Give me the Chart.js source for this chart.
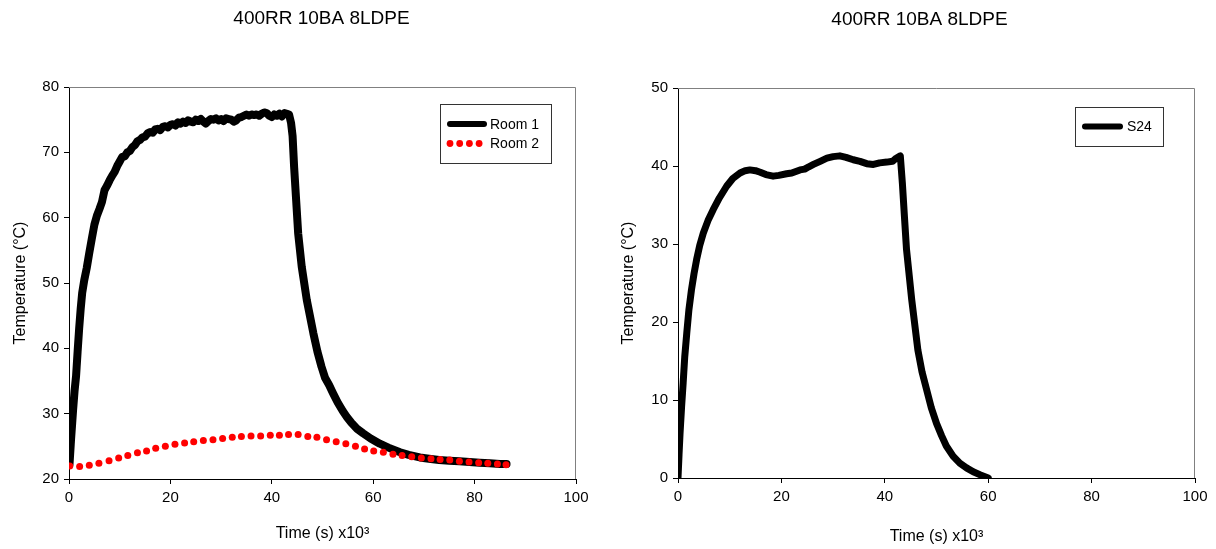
<!DOCTYPE html>
<html>
<head>
<meta charset="utf-8">
<script src="https://cdn.jsdelivr.net/npm/chart.js"></script>
<style>
  body { margin: 0; background: #fff; }
  #wrap { position: relative; width: 1216px; height: 549px; }
  canvas { position: absolute; top: 0; }
  #leftChart { left: 0; }
  #rightChart { left: 600px; }
</style>
</head>
<body>
<div id="wrap">
  <canvas id="leftChart" width="600" height="549"></canvas>
  <canvas id="rightChart" width="616" height="549"></canvas>
</div>
<script>
    const chartTitle = '400RR 10BA 8LDPE';
    const xTitle = 'Time (s) x10\u00b3';
    const yTitle = 'Temperature (\u00b0C)';

    // Room 1 (thick black line), time in thousands of seconds
    const room1Time = [0.1, 0.4, 0.8, 1.1, 1.4, 1.7, 2.0, 2.3, 2.6, 3.0, 3.5, 4.0, 4.5, 5.0, 5.5, 6.0, 6.5, 7.0, 7.5, 8.0,
        8.5, 9.0, 9.5, 10.0, 10.5, 11.0, 11.5, 12.0, 12.5, 13.0, 13.5, 14.0, 14.5, 15.0, 15.5, 16.0, 16.5, 17.0, 17.5, 18.0,
        18.5, 19.0, 19.5, 20.0, 20.5, 21.0, 21.5, 22.0, 22.5, 23.0, 23.5, 24.0, 24.5, 25.0, 25.5, 26.0, 26.5, 27.0, 27.5, 28.0,
        28.5, 29.0, 29.5, 30.0, 30.5, 31.0, 31.5, 32.0, 32.5, 33.0, 33.5, 34.0, 34.5, 35.0, 35.5, 36.0, 36.5, 37.0, 37.5, 38.0,
        38.5, 39.0, 39.5, 40.0, 40.5, 41.0, 41.5, 42.0, 42.5, 43.0, 43.4, 43.8, 44.1, 44.4, 44.8, 45.2, 45.9, 46.9, 48.2, 49.0,
        49.8, 50.5, 51.3, 52.1, 53.0, 54.0, 54.8, 55.7, 56.8, 58.0, 59.5, 61.3, 63.0, 65.3, 67.0, 69.2, 71.0, 73.0, 75.0, 77.0,
        79.0, 81.0, 83.0, 85.0, 86.3];
    const room1Temp = [22.2, 26.0, 30.5, 33.5, 35.8, 39.5, 43.0, 46.0, 48.5, 50.4, 52.3, 54.6, 56.8, 58.9, 60.3, 61.3, 62.4, 64.2, 64.9, 65.7,
        66.4, 67.0, 67.9, 68.6, 69.3, 69.4, 70.0, 70.2, 70.8, 71.1, 71.7, 71.9, 72.3, 72.4, 72.9, 73.1, 73.0, 73.5, 73.6, 73.4,
        73.9, 74.0, 73.8, 74.2, 74.3, 74.1, 74.6, 74.4, 74.7, 74.5, 74.9, 74.7, 74.6, 75.0, 74.8, 75.1, 74.7, 74.4, 74.8, 75.1,
        75.0, 75.2, 74.9, 75.1, 74.8, 75.2, 75.1, 75.0, 74.7, 74.9, 75.3, 75.4, 75.6, 75.8, 75.6, 75.8, 75.7, 75.8, 75.6, 75.9,
        76.1, 76.0, 75.6, 75.4, 75.8, 75.6, 75.9, 75.5, 76.0, 75.9, 75.8, 74.5, 72.5, 67.8, 62.7, 57.6, 52.5, 47.4, 42.3, 39.5,
        37.2, 35.5, 34.4, 33.1, 31.7, 30.4, 29.5, 28.6, 27.7, 27.0, 26.2, 25.4, 24.8, 24.1, 23.7, 23.3, 23.1, 22.9, 22.8, 22.7,
        22.6, 22.5, 22.4, 22.3, 22.3];

    // Room 2 (red dots)
    const room2Time = [0.15, 2.1, 4.0, 5.9, 7.9, 9.8, 11.6, 13.5, 15.3, 17.1, 19.0, 20.9, 22.8, 24.6, 26.5, 28.4, 30.3, 32.2, 34.0, 35.9,
        37.8, 39.7, 41.5, 43.3, 45.2, 47.1, 48.9, 50.8, 52.7, 54.6, 56.5, 58.3, 60.1, 62.0, 63.9, 65.7, 67.6, 69.5, 71.4, 73.2,
        75.1, 77.0, 78.9, 80.8, 82.6, 84.5, 86.2];
    const room2Temp = [22.0, 21.9, 22.1, 22.4, 22.8, 23.2, 23.6, 24.0, 24.3, 24.7, 25.0, 25.3, 25.5, 25.7, 25.9, 26.0, 26.2, 26.4, 26.5, 26.6,
        26.6, 26.7, 26.7, 26.8, 26.8, 26.5, 26.4, 26.0, 25.7, 25.4, 25.0, 24.6, 24.3, 24.1, 23.8, 23.6, 23.4, 23.2, 23.1, 23.0,
        22.9, 22.7, 22.6, 22.5, 22.4, 22.3, 22.2];

    // S24 (right chart)
    const s24Time = [0.0, 0.2, 0.4, 0.7, 1.0, 1.3, 1.7, 2.1, 2.6, 3.1, 3.6, 4.2, 4.9, 5.8, 6.8, 8.0, 9.4, 10.6, 12.0, 13.0,
        13.9, 15.0, 15.9, 17.0, 18.4, 19.5, 21.0, 22.0, 23.6, 24.5, 25.3, 26.2, 27.5, 28.8, 30.0, 31.3, 32.5, 33.9, 35.2, 36.5,
        37.8, 39.0, 40.4, 41.5, 42.2, 43.0, 43.4, 43.8, 44.2, 45.2, 46.4, 47.2, 48.1, 49.0, 50.0, 51.0, 51.9, 53.2, 54.5, 55.8,
        57.1, 58.5, 60.0];
    const s24Temp = [0.0, 3.0, 5.8, 9.2, 12.2, 15.5, 18.6, 21.5, 24.1, 26.2, 28.0, 29.8, 31.4, 33.0, 34.4, 35.9, 37.4, 38.4, 39.1, 39.4,
        39.5, 39.4, 39.2, 38.9, 38.7, 38.8, 39.0, 39.1, 39.5, 39.6, 39.9, 40.2, 40.6, 41.0, 41.2, 41.3, 41.1, 40.8, 40.6, 40.3,
        40.2, 40.4, 40.5, 40.6, 41.0, 41.3, 37.8, 33.5, 29.3, 22.9, 16.4, 13.6, 11.3, 9.0, 7.0, 5.4, 4.1, 2.8, 1.9, 1.3,
        0.8, 0.4, 0.0];

    const xTicks = [0, 20, 40, 60, 80, 100];
    const leftYTicks = [20, 30, 40, 50, 60, 70, 80];
    const rightYTicks = [0, 10, 20, 30, 40, 50];

    const FONT = "'Liberation Sans', Arial, sans-serif";

    function pairs(xs, ys) {
        return xs.map((x, i) => ({ x: x, y: ys[i] }));
    }

    // gray top/right frame of the plot area
    const plotFrame = {
        id: 'plotFrame',
        beforeDatasetsDraw(chart) {
            const { ctx, chartArea: a } = chart;
            ctx.save();
            ctx.strokeStyle = '#808080';
            ctx.lineWidth = 1;
            ctx.beginPath();
            ctx.moveTo(a.left, a.top + 0.5);
            ctx.lineTo(a.right - 0.5, a.top + 0.5);
            ctx.lineTo(a.right - 0.5, a.bottom);
            ctx.stroke();
            ctx.restore();
        }
    };

    // title drawn at a fixed offset from the plot centre
    const topTitle = {
        id: 'topTitle',
        afterDraw(chart, args, opts) {
            const { ctx, chartArea: a } = chart;
            ctx.save();
            ctx.font = '19px ' + FONT;
            ctx.fillStyle = '#000';
            ctx.textAlign = 'center';
            ctx.textBaseline = 'middle';
            ctx.fillText(opts.text, (a.left + a.right) / 2 + opts.dx, opts.y);
            ctx.restore();
        }
    };

    // boxed legend inside the plot area, top right
    const boxLegend = {
        id: 'boxLegend',
        afterDatasetsDraw(chart, args, opts) {
            const { ctx, chartArea: a } = chart;
            const x = a.right - opts.right - opts.width;
            const y = a.top + opts.top;
            ctx.save();
            ctx.fillStyle = '#fff';
            ctx.fillRect(x, y, opts.width, opts.height);
            ctx.strokeStyle = '#333';
            ctx.lineWidth = 1;
            ctx.strokeRect(x + 0.5, y + 0.5, opts.width, opts.height);
            ctx.font = '14px ' + FONT;
            ctx.textBaseline = 'middle';
            chart.data.datasets.forEach((ds, i) => {
                const ly = y + opts.firstRow + i * opts.rowGap;
                if (ds.showLine === false) {
                    ctx.fillStyle = ds.pointBackgroundColor;
                    for (let k = 0; k < 4; k++) {
                        ctx.beginPath();
                        ctx.arc(x + 10 + k * 9.7, ly, 3.4, 0, Math.PI * 2);
                        ctx.fill();
                    }
                } else {
                    ctx.strokeStyle = ds.borderColor;
                    ctx.lineWidth = 6;
                    ctx.lineCap = 'round';
                    ctx.beginPath();
                    ctx.moveTo(x + 10, ly);
                    ctx.lineTo(x + opts.lineEnd, ly);
                    ctx.stroke();
                }
                ctx.fillStyle = '#000';
                ctx.fillText(ds.label, x + opts.textX, ly + 1);
            });
            ctx.restore();
        }
    };

    function axisOptions(min, max, ticks, axisSize, titlePad, horizontal) {
        return {
            type: 'linear',
            min: min,
            max: max,
            afterBuildTicks: (scale) => { scale.ticks = ticks.map(v => ({ value: v })); },
            afterFit: (scale) => {
                if (horizontal) scale.height = axisSize; else scale.width = axisSize;
            },
            border: { display: true, color: '#000', width: 1 },
            grid: { display: true, drawOnChartArea: false, drawTicks: true, tickLength: 5, color: '#000' },
            ticks: {
                color: '#000',
                padding: horizontal ? 5 : 5,
                maxRotation: 0,
                font: { family: FONT, size: 15 }
            },
            title: {
                display: true,
                text: horizontal ? xTitle : yTitle,
                color: '#000',
                font: { family: FONT, size: 16 },
                padding: horizontal ? { bottom: titlePad } : { top: titlePad }
            }
        };
    }

    function baseOptions(pad, yMin, yMax, yTicks, yWidth, yTitlePad, xHeight, xTitlePad, legend, title) {
        return {
            responsive: false,
            animation: false,
            devicePixelRatio: 1,
            layout: { padding: pad },
            plugins: {
                legend: { display: false },
                tooltip: { enabled: false },
                boxLegend: legend,
                topTitle: title
            },
            elements: { point: { radius: 0 } },
            scales: {
                x: axisOptions(0, 100, xTicks, xHeight, xTitlePad, true),
                y: axisOptions(yMin, yMax, yTicks, yWidth, yTitlePad, false)
            }
        };
    }

    new Chart(document.getElementById('leftChart'), {
        type: 'line',
        data: {
            datasets: [{
                label: 'Room 1',
                data: pairs(room1Time, room1Temp),
                order: 2,
                borderColor: '#000',
                borderWidth: 8,
                borderCapStyle: 'round',
                borderJoinStyle: 'round',
                pointRadius: 0,
                tension: 0
            }, {
                label: 'Room 2',
                data: pairs(room2Time, room2Temp),
                order: 1,
                showLine: false,
                pointRadius: 3.5,
                pointBorderWidth: 0,
                pointBackgroundColor: '#ff0000',
                borderColor: '#ff0000'
            }]
        },
        options: baseOptions({ top: 87, left: 0, right: 24, bottom: 0 }, 20, 80, leftYTicks, 69, 11, 70, 6,
            { right: 25, top: 17, width: 111, height: 59, firstRow: 20, rowGap: 19.5, lineEnd: 44, textX: 50 },
            { text: chartTitle, dx: -1, y: 19 }),
        plugins: [plotFrame, boxLegend, topTitle]
    });

    new Chart(document.getElementById('rightChart'), {
        type: 'line',
        data: {
            datasets: [{
                label: 'S24',
                data: pairs(s24Time, s24Temp),
                borderColor: '#000',
                borderWidth: 7,
                borderCapStyle: 'round',
                borderJoinStyle: 'round',
                pointRadius: 0,
                tension: 0
            }]
        },
        options: baseOptions({ top: 88, left: 0, right: 21, bottom: 0 }, 0, 50, rightYTicks, 78, 19, 71, 3,
            { right: 32, top: 19, width: 88, height: 39, firstRow: 19.5, rowGap: 19.5, lineEnd: 45, textX: 52 },
            { text: chartTitle, dx: -17, y: 20 }),
        plugins: [plotFrame, boxLegend, topTitle]
    });
</script>
</body>
</html>
